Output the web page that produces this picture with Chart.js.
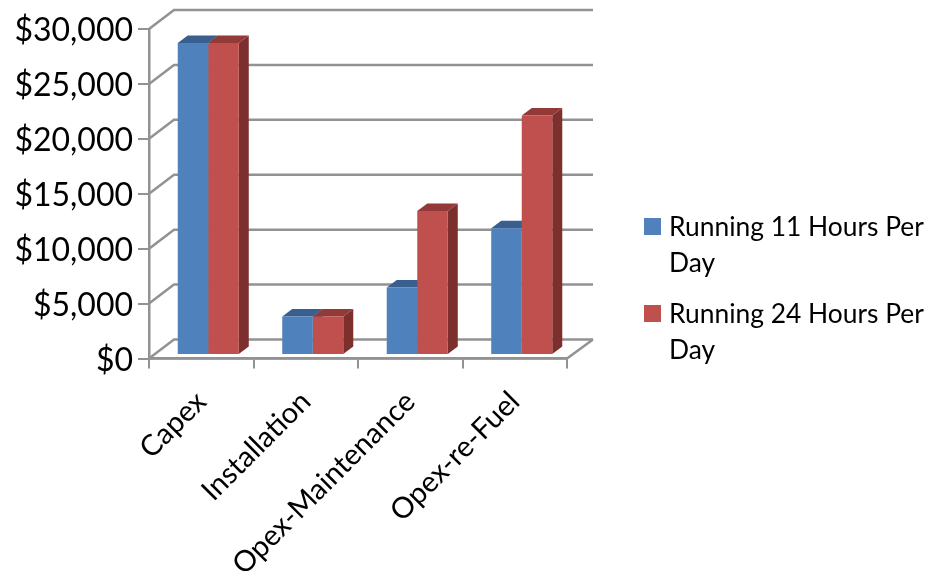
<!DOCTYPE html>
<html>
<head>
<meta charset="utf-8">
<style>
  html, body { margin: 0; padding: 0; background: #fff; }
  canvas { display: block; }
</style>
<script src="https://cdn.jsdelivr.net/npm/chart.js@4"></script>
</head>
<body>
<canvas id="costChart" width="928" height="576"></canvas>
<script>
"use strict";
const categories = ['Capex', 'Installation', 'Opex-Maintenance', 'Opex-re-Fuel'];
const running11 = [28400, 3500, 6150, 11550];
const running24 = [28400, 3500, 13100, 21800];
const legendLines11 = ['Running 11 Hours Per', 'Day'];
const legendLines24 = ['Running 24 Hours Per', 'Day'];
const yTicks = [0, 5000, 10000, 15000, 20000, 25000, 30000];

const FONT = 'Lato, sans-serif';
const GREY = '#929292';

// fake 3D: the wall sits this far behind the axis plane, bars sit part of the way in
const WALL_DX = 25, WALL_DY = 19;
const BAR_DX = 7, BAR_DY = 3.5;
const BAR_SIDE_DX = 10, BAR_SIDE_DY = 7.5;

function line(ctx, pts) {
  ctx.beginPath();
  pts.forEach((p, i) => i ? ctx.lineTo(p[0], p[1]) : ctx.moveTo(p[0], p[1]));
  ctx.stroke();
}

function poly(ctx, pts, color) {
  ctx.beginPath();
  pts.forEach((p, i) => i ? ctx.lineTo(p[0], p[1]) : ctx.moveTo(p[0], p[1]));
  ctx.closePath();
  ctx.fillStyle = color;
  ctx.fill();
}

const walls = {
  id: 'walls',
  beforeDatasetsDraw(chart) {
    const { ctx, chartArea: ca, scales } = chart;
    ctx.save();
    ctx.strokeStyle = GREY;
    ctx.lineWidth = 2.5;
    // gridlines run up the side wall and along the back
    yTicks.forEach(v => {
      const y = scales.y.getPixelForValue(v);
      line(ctx, [[ca.left, y], [ca.left + WALL_DX, y - WALL_DY], [ca.right + WALL_DX + 1, y - WALL_DY]]);
    });
    // floor edge
    line(ctx, [[ca.left, ca.bottom], [ca.right, ca.bottom], [ca.right + WALL_DX + 1, ca.bottom - WALL_DY]]);
    ctx.restore();

    // bars are pushed back from the axis plane until afterDatasetsDraw
    ctx.save();
    ctx.translate(BAR_DX, -BAR_DY);
    chart.data.datasets.forEach((ds, di) => {
      chart.getDatasetMeta(di).data.forEach(bar => {
        const l = bar.x - bar.width / 2, r = bar.x + bar.width / 2;
        poly(ctx, [[r, bar.y], [r + BAR_SIDE_DX, bar.y - BAR_SIDE_DY], [r + BAR_SIDE_DX, bar.base - BAR_SIDE_DY], [r, bar.base]], ds.sideColor);
        poly(ctx, [[l, bar.y], [l + BAR_SIDE_DX, bar.y - BAR_SIDE_DY], [r + BAR_SIDE_DX, bar.y - BAR_SIDE_DY], [r, bar.y]], ds.topColor);
      });
    });
  },
  afterDatasetsDraw(chart) {
    chart.ctx.restore();
  }
};

const sideLegend = {
  id: 'sideLegend',
  afterDraw(chart) {
    const ctx = chart.ctx;
    ctx.save();
    ctx.font = '26.4px ' + FONT;
    ctx.textAlign = 'left';
    ctx.textBaseline = 'alphabetic';
    [[legendLines11, 218], [legendLines24, 305]].forEach((item, i) => {
      ctx.fillStyle = chart.data.datasets[i].backgroundColor;
      ctx.fillRect(644, item[1], 17, 17);
      ctx.fillStyle = '#000';
      item[0].forEach((ln, li) => ctx.fillText(ln, 669, item[1] + 18 + li * 35.5));
    });
    ctx.restore();
  }
};

new Chart(document.getElementById('costChart').getContext('2d'), {
  type: 'bar',
  data: {
    labels: categories,
    datasets: [
      { label: legendLines11.join(' '), data: running11, backgroundColor: '#4f81bd', topColor: '#385f8e', sideColor: '#3a5f8c', clip: false },
      { label: legendLines24.join(' '), data: running24, backgroundColor: '#c0504d', topColor: '#933a38', sideColor: '#7d2f2d', clip: false }
    ]
  },
  options: {
    responsive: false,
    animation: false,
    layout: { padding: { top: 29, right: 361, left: 0, bottom: 0 } },
    datasets: { bar: { categoryPercentage: 0.584, barPercentage: 1, borderWidth: 0 } },
    plugins: { legend: { display: false }, tooltip: { enabled: false } },
    scales: {
      x: {
        afterFit: s => { s.height = 217.5; },
        border: { color: GREY, width: 2.5 },
        grid: { color: GREY, lineWidth: 2, drawOnChartArea: false, tickLength: 10 },
        ticks: { color: '#000', font: { family: FONT, size: 29 }, minRotation: 45, maxRotation: 45, padding: 16 }
      },
      y: {
        min: 0,
        max: 30000,
        afterFit: s => { s.width = 149; },
        afterBuildTicks: s => { s.ticks = yTicks.map(v => ({ value: v })); },
        border: { color: GREY, width: 2.5 },
        grid: { color: GREY, lineWidth: 2, drawOnChartArea: false, tickLength: 11 },
        ticks: { color: '#000', font: { family: FONT, size: 32 }, padding: 5, labelOffset: 2, callback: v => '$' + v.toLocaleString('en-US') }
      }
    }
  },
  plugins: [walls, sideLegend]
});
</script>
</body>
</html>
